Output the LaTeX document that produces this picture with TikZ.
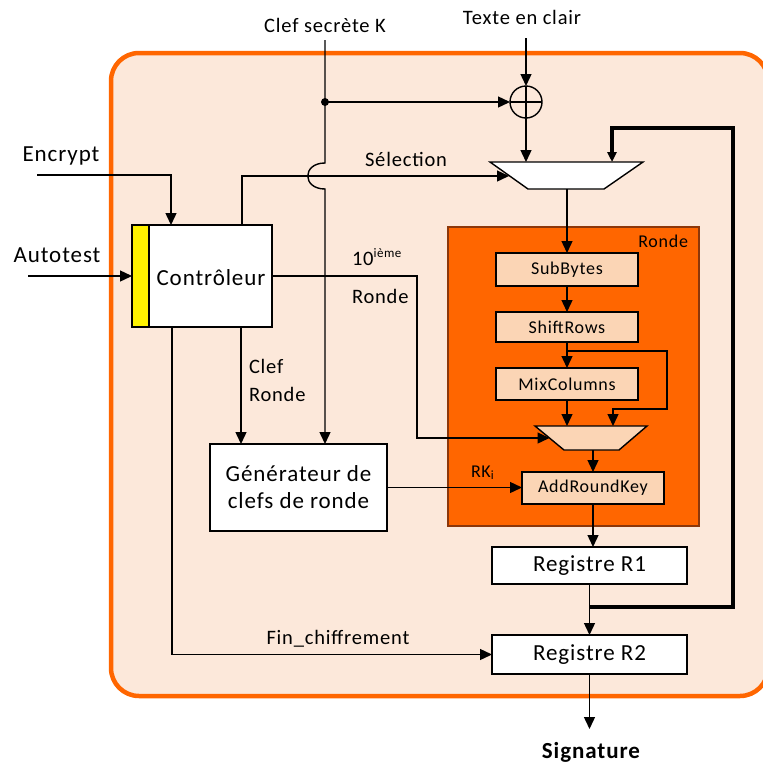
\documentclass[tikz,border=0pt]{standalone}
\usepackage{fontspec}
\setmainfont{Carlito}[LetterSpace=4]
\usetikzlibrary{arrows.meta,calc}
\definecolor{orangeB}{RGB}{255,102,0}
\definecolor{peach}{RGB}{252,232,218}
\definecolor{lpeach}{RGB}{251,213,181}
\definecolor{rondeB}{RGB}{140,55,10}
\begin{document}
\begin{tikzpicture}[x=1pt,y=-1pt,
 line width=1.4pt,
 arr/.style={-{Triangle[length=12pt,width=11pt]}},
 thickarr/.style={line width=3.6pt,-{Triangle[length=10pt,width=9pt]}},
 big/.style={font=\fontsize{23}{28}\selectfont},
 lblf/.style={font=\fontsize{20.5}{24}\selectfont},
 smallf/.style={font=\fontsize{18}{22}\selectfont},
 box/.style={draw, fill=white, line width=1.4pt, inner sep=0pt, outer sep=0pt},
 sbox/.style={draw, fill=lpeach, line width=1.4pt, inner sep=0pt, outer sep=0pt, smallf},
 txt/.style={inner sep=0pt, outer sep=0pt, anchor=base}]
\clip (0,0) rectangle (763,764);
\fill[white] (0,0) rectangle (763,764);
% outer frame
\draw[orangeB, fill=peach, line width=4.5pt, rounded corners=28pt] (111,53) rectangle (768,696);
% Ronde block
\node[draw=rondeB, fill=orangeB, line width=1.3pt, minimum width=251pt, minimum height=299pt, inner sep=0pt, outer sep=0pt] (ronde) at (573.5,376.5) {};
\node[txt, anchor=base east, smallf] (rondelbl) at (688,247) {Ronde};

% top texts
\node[txt, lblf] (ksec) at (325,32) {Clef secrète K};
\node[txt, lblf] (texte) at (522,24) {Texte en clair};
\node[txt, big] (enc) at (61,161) {Encrypt};
\node[txt, big] (auto) at (57,262) {Autotest};

% controller
\node[box, minimum width=140pt, minimum height=102pt] (ctrl) at (202,276) {};
\node[draw, fill=yellow, minimum width=17pt, minimum height=102pt, inner sep=0pt, outer sep=0pt, line width=1.4pt] (ybar) at (140.5,276) {};
\node[txt, big] (ctrltxt) at (211,285) {Contrôleur};

% key generator
\node[box, big, minimum width=177pt, minimum height=87pt, align=center] (gen) at (298.5,487.5) {Générateur de\\[-1pt]clefs de ronde};

% XOR
\node[draw, circle, minimum size=32pt, inner sep=0pt, outer sep=0pt, line width=1.4pt] (xor) at (526,102) {};
\draw (xor.north) -- (xor.south) (xor.west) -- (xor.east);

% top mux
\coordinate (m1tl) at (490,162);
\coordinate (m1tr) at (643,162);
\coordinate (m1br) at (604,189);
\coordinate (m1bl) at (528,189);
\draw[fill=white] (m1tl) -- (m1tr) -- (m1br) -- (m1bl) -- cycle;
\coordinate (m1in) at (509,176);
\coordinate (m1top) at (526,162);
\coordinate (m1fb) at (612,162);
\coordinate (m1out) at (567,189);

% round boxes
\node[sbox, minimum width=142pt, minimum height=33pt] (sub) at (567,269.5) {SubBytes};
\node[sbox, minimum width=142pt, minimum height=30pt] (shift) at (567,327) {ShiftRows};
\node[sbox, minimum width=142pt, minimum height=32pt] (mix) at (567,384) {MixColumns};
\node[sbox, minimum width=142pt, minimum height=32pt] (ark) at (593,488) {AddRoundKey};

% lower mux
\coordinate (m2tl) at (535,426);
\coordinate (m2tr) at (647,426);
\coordinate (m2br) at (619,450);
\coordinate (m2bl) at (564,450);
\draw[fill=lpeach] (m2tl) -- (m2tr) -- (m2br) -- (m2bl) -- cycle;
\coordinate (m2in) at (549.5,438);
\coordinate (m2a) at (567,426);
\coordinate (m2fb) at (613,426);
\coordinate (m2out) at (593,450);

% registers
\node[box, big, minimum width=195pt, minimum height=37pt] (r1) at (589.5,565.5) {Registre R1};
\node[box, big, minimum width=195pt, minimum height=39pt] (r2) at (589.5,654.5) {Registre R2};
\node[txt, font=\fontsize{23}{28}\selectfont\bfseries] (sig) at (591,758) {Signature};

% connectors
\coordinate (txtIn) at (526,38);
\draw[arr] (txtIn) -- (xor.north);
\draw[arr] (xor.south) -- (m1top);
\coordinate (kTop) at (325,40);
\coordinate (kdot) at (325,102);
\coordinate (hopA) at (325,163);
\coordinate (hopB) at (325,189);
\draw[arr] (kTop) -- (hopA) .. controls (302,163) and (302,189) .. (hopB) -- (hopB |- gen.north);
\draw[arr] (kdot) -- (xor.west);
\fill (kdot) circle (4pt);

\coordinate (encIn) at (37,175);
\draw[arr] (encIn) -| ([xshift=-31pt]ctrl.north);
\coordinate (autoIn) at (28,276);
\draw[arr] (autoIn) -- (ybar.west);

\draw[arr] ([xshift=40pt]ctrl.north) |- (m1in);
\node[txt, lblf] (sel) at (406,166) {Sélection};

\coordinate (bend10) at (417,438);
\draw[arr] (ctrl.east) -| (bend10) -- (m2in);
\node[txt, anchor=base west, lblf] (dix) at (352,265) {10\raisebox{8pt}{\fontsize{13}{15}\selectfont ième}};
\node[txt, anchor=base west, lblf] (dixr) at (352,303) {Ronde};

\draw[arr] ([xshift=39pt]ctrl.south) -- ([xshift=39pt]ctrl.south |- gen.north);
\node[txt, anchor=base west, lblf] (cr1) at (249,373) {Clef};
\node[txt, anchor=base west, lblf] (cr2) at (249,401) {Ronde};

\draw[arr] (m1out) -- (sub.north);
\draw[arr] (sub.south) -- (shift.north);
\draw[arr] (shift.south) -- (mix.north);
\coordinate (bp) at (567,351);
\coordinate (bpc) at (667,409);
\draw[arr] (bp) -| (bpc) -| (m2fb);
\draw[arr] (mix.south) -- (m2a);
\draw[arr] (m2out) -- (m2out |- ark.north);

\draw[arr] (gen.east) -- (gen.east -| ark.west);
\node[txt, anchor=base west, smallf] (rk) at (471,477) {RK\textsubscript{i}};

\draw[arr] (ark.south) -- (ark.south |- r1.north);
\draw[arr] (r1.south) -- (r2.north);
\coordinate (fbS) at (590,607);
\coordinate (fbA) at (733,607);
\coordinate (fbB) at (733,128);
\draw[thickarr] (fbS) -- (fbA) -- (fbB) -| (m1fb);

\draw[arr] ([xshift=-30pt]ctrl.south) |- (r2.west);
\node[txt, lblf] (fin) at (338,644) {Fin\_chiffrement};

\coordinate (sigIn) at (589.5,729);
\draw[arr] (r2.south) -- (sigIn);
\end{tikzpicture}
\end{document}
